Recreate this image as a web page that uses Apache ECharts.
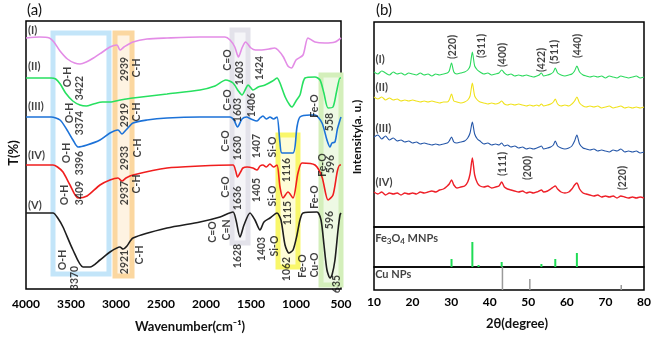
<!DOCTYPE html>
<html>
<head>
<meta charset="utf-8">
<script src="https://cdn.jsdelivr.net/npm/echarts@6/dist/echarts.min.js"></script>
<style>
html,body{margin:0;padding:0;background:#fff;}
#box{width:661px;height:339px;}
</style>
</head>
<body>
<div id="box"></div>
<script>
// (a) FTIR spectra, [wavenumber, T] (curves stacked, arbitrary units)
var ftirI = [[4000,251],[3850,252],[3740,251],[3690,247],[3622,238],[3540,230],[3460,226],[3400,225],[3330,227],[3250,231],[3150,237],[3067,242],[2989,244],[2956,239],[2911,242],[2811,247],[2656,250],[2433,251],[2067,252],[1789,252],[1733,249],[1680,242],[1640,232],[1600,241],[1560,247],[1500,241],[1450,239],[1380,239],[1300,240],[1240,241],[1200,239],[1140,232],[1090,223],[1050,221],[1000,229],[922,234],[867,251],[789,247],[678,246],[567,247],[500,251]];
var ftirII = [[4000,211],[3720,211],[3670,210],[3620,205],[3560,196],[3480,188],[3400,184],[3330,183],[3250,185],[3150,187],[3067,187],[2950,189],[2811,191],[2433,195],[2067,199],[1900,203],[1780,209],[1700,206],[1640,198],[1600,194],[1560,200],[1533,204],[1500,201],[1478,199],[1420,202],[1344,204],[1260,208],[1211,211],[1178,206],[1120,192],[1070,184],[1044,182],[1000,188],[956,194],[900,211],[789,212],[733,209],[690,196],[644,181],[589,182],[550,197],[511,211],[500,211]];
var ftirIII = [[4000,172],[3720,172],[3622,169],[3544,159],[3478,149],[3422,142],[3322,144],[3178,149],[3067,156],[2978,159],[2933,155],[2889,159],[2811,166],[2656,169],[2433,171],[2067,172],[1733,172],[1690,169],[1650,162],[1600,170],[1550,172],[1500,170],[1433,168],[1400,171],[1367,173],[1330,170],[1289,172],[1250,170],[1211,172],[1178,146],[1156,136],[1033,136],[989,162],[956,172],[844,174],[789,174],[711,166],[656,149],[622,142],[600,146],[567,147],[540,160],[511,169],[500,172]];
var ftirIV = [[4000,124],[3700,124],[3650,122],[3589,117],[3511,104],[3422,91],[3322,93],[3178,104],[3067,109],[2978,111],[2933,108],[2889,111],[2811,114],[2433,121],[2067,123],[1700,124],[1670,118],[1650,112],[1610,118],[1590,121],[1544,122],[1480,121],[1433,119],[1400,123],[1367,124],[1330,122],[1290,125],[1250,122],[1211,124],[1178,102],[1144,91],[1089,97],[1033,91],[978,116],[933,126],[789,124],[711,112],[644,89],[589,94],[540,118],[511,124],[500,124]];
var ftirV = [[4000,76],[3700,76],[3640,70],[3589,62],[3478,39],[3367,22],[3289,22],[3178,29],[3067,37],[2956,42],[2922,40],[2878,43],[2811,51],[2433,61],[2067,67],[1844,72],[1700,77],[1667,69],[1622,52],[1578,64],[1511,76],[1456,69],[1400,59],[1356,67],[1289,71],[1211,76],[1167,69],[1122,44],[1078,36],[1033,39],[989,54],[956,69],[922,76],[767,77],[722,69],[689,44],[656,19],[622,11],[600,14],[567,29],[533,59],[511,74],[500,76]];

var ftirNames = [['(I)',3978,259],['(II)',3978,223],['(III)',3978,183],['(IV)',3978,134],['(V)',3978,84]];
var ftirPeaks = [
  ['O-H',3533,212],['3422',3400,201],['2939',2900,220],['C-H',2767,221],['C=O',1756,229],['1603',1622,216],['1424',1400,221],
  ['O-H',3511,176],['3374',3400,166],['2919',2900,174],['C-H',2767,177],['C=O',1756,189],['1603',1644,179],['1406',1489,184],['Fe-O',789,183],['558',622,167],
  ['O-H',3544,136],['3396',3400,126],['2933',2900,131],['C-H',2756,141],['C=O',1778,148],['1630',1644,141],['1407',1433,143],['Si-O',1256,142],['1116',1100,119],['Fe-O',700,124],['596',611,125],
  ['O-H',3567,94],['3409',3400,96],['2937',2900,96],['C-H',2767,105],['C=O',1778,102],['1636',1644,91],['1405',1433,99],['Si-O',1256,93],['1115',1089,76],['Fe-O',789,92],['596',622,69],
  ['O-H',3589,29],['3370',3456,11],['2921',2900,27],['C-H',2733,34],['C=O',1922,57],['C=N',1767,59],['1628',1644,33],['1403',1378,40],['Si-O',1233,43],['1062',1100,20],['Fe-O',922,23],['Cu-O',789,24],['635',544,5]
];
// highlight bands: [wnFrom, wnTo, Ttop, Tbottom]
var bandOH = [3700,3078,256,15];
var bandCH = [3011,2822,256,13];
var bandCO = [1711,1533,259,46];
var bandSiO = [1200,978,154,22];
var bandFeO = [722,500,214,4];

// (b) XRD patterns
var twoTheta = [10,11,12,13,14,15,16,17,18,19,20,21,22,23,24,25,26,27,28,29,29.5,30.1,30.7,31.5,32.5,33.5,34.3,34.9,35.5,36.1,36.8,37.5,38.5,39.5,40.5,41.5,42.4,43.1,43.8,44.6,45.5,46.5,47.5,48.5,49.5,50.4,51.3,52.2,52.8,53.4,54,55,55.8,56.5,57,57.6,58.5,59.5,60.5,61.3,62,62.6,63.3,64.2,65,66,67,68,69,70,71,72,73,74,75,76,77,78,79,80];
var xrdI = [155,153,156,154,152,155,153,154,152,154,153,152,154,152,153,151,153,152,153,154,156,164,155,153,154,155,157,161,175,161,157,155,153,154,152,153,154,157,154,152,153,151,152,151,152,151,150,151,152,154,151,152,153,155,159,154,152,151,152,153,156,161,155,152,151,150,151,150,151,149,151,150,149,151,150,149,150,151,149,150];
var xrdII = [130,128,130,127,129,127,128,126,127,126,127,126,125,126,125,126,125,124,125,125,127,133,126,125,124,125,127,131,144,131,127,125,124,123,124,123,124,126,123,122,123,122,123,122,121,122,121,122,121,123,121,122,123,125,128,123,121,122,121,123,126,130,124,121,120,121,120,121,119,120,121,119,120,121,119,120,119,120,119,120];
var xrdIII = [90,92,88,91,87,89,86,87,85,86,84,85,83,84,83,82,83,82,83,84,86,90,85,84,85,86,89,94,105,93,88,86,83,84,82,83,82,84,81,82,80,81,79,80,78,79,78,79,80,81,78,79,80,82,86,81,79,78,79,81,86,92,83,79,78,77,78,76,77,76,75,77,76,78,75,76,75,76,74,75];
var xrdIV = [35,33,35,32,34,33,34,32,34,33,34,33,35,34,35,36,35,37,38,41,43,47,42,39,40,41,45,53,69,52,44,41,40,41,39,40,41,45,40,38,37,36,35,36,34,35,34,35,36,37,35,36,38,40,41,38,35,34,35,38,42,44,38,34,33,32,31,32,30,31,30,31,29,31,30,29,30,29,30,29];
var xrdNames = [['(I)',10.4,168],['(II)',10.4,140],['(III)',10.4,99],['(IV)',10.4,45]];
var hklLabels = [['(220)',30.5,180],['(311)',38.0,181],['(400)',43.4,172],['(422)',53.5,167],['(511)',56.9,175],['(440)',62.8,181],
  ['(111)',43.4,63],['(200)',49.9,59],['(220)',74.5,49]];
var fe3o4Sticks = [[30.1,8],[35.5,25],[37.1,2],[43.1,5],[53.4,3],[57.0,8],[62.6,14]];
var cuSticks = [[43.3,23],[50.4,11],[74.1,5]];

var FONT = 'Lato';
var chart = echarts.init(document.getElementById('box'));

function pair(vals) { return twoTheta.map(function (t, i) { return [t, vals[i]]; }); }
function band(b, line, fill) {
  return [{xAxis: b[0], yAxis: b[2], itemStyle: {color: fill, borderColor: line, borderWidth: 5}}, {xAxis: b[1], yAxis: b[3]}];
}
function curve(name, data, color, xi, w) {
  return {name: name, type: 'line', data: data, xAxisIndex: xi, yAxisIndex: xi, symbol: 'none', smooth: 0.25,
    lineStyle: {color: color, width: w}, z: 3, silent: true};
}
function textSeries(data, xi, opts) {
  return {type: 'scatter', data: data.map(function (d) { return [d[1], d[2], d[0]]; }), xAxisIndex: xi, yAxisIndex: xi,
    symbolSize: 1, itemStyle: {color: 'rgba(0,0,0,0)'}, z: 5, silent: true,
    label: Object.assign({show: true, position: 'inside', color: '#111', fontFamily: FONT, fontWeight: 'bold',
      formatter: function (p) { return p.value[2]; }}, opts)};
}
function sticks(data, xi, color, w) {
  return {type: 'custom', xAxisIndex: xi, yAxisIndex: xi, data: data, silent: true,
    renderItem: function (params, api) {
      var a = api.coord([api.value(0), 0]), b = api.coord([api.value(0), api.value(1)]);
      return {type: 'line', shape: {x1: a[0], y1: a[1], x2: b[0], y2: b[1]}, style: {stroke: color, lineWidth: w}};
    }};
}
function plain(v) { return String(v); }

var hidden = {show: false};
var option = {
  animation: false,
  grid: [
    {left: 26, top: 21, width: 315, height: 268, show: true, borderColor: '#000', borderWidth: 1.5},
    {left: 374, top: 22, width: 270, height: 205, show: true, borderColor: '#000', borderWidth: 1.5},
    {left: 374, top: 227, width: 270, height: 40, show: true, borderColor: '#000', borderWidth: 1.5},
    {left: 374, top: 267, width: 270, height: 23, show: true, borderColor: '#000', borderWidth: 1.5}
  ],
  xAxis: [
    {type: 'value', gridIndex: 0, min: 500, max: 4000, interval: 500, inverse: true,
      axisLine: hidden, axisTick: hidden, splitLine: hidden,
      axisLabel: {fontFamily: FONT, fontWeight: 'bold', fontSize: 12, color: '#000', margin: 9, formatter: plain}},
    {type: 'value', gridIndex: 1, min: 10, max: 80, show: false},
    {type: 'value', gridIndex: 2, min: 10, max: 80, show: false},
    {type: 'value', gridIndex: 3, min: 10, max: 80, interval: 10,
      axisLine: hidden, axisTick: hidden, splitLine: hidden,
      axisLabel: {fontFamily: FONT, fontWeight: 'bold', fontSize: 12, color: '#000', margin: 6, formatter: plain}}
  ],
  yAxis: [
    {type: 'value', gridIndex: 0, min: 0, max: 268, show: false},
    {type: 'value', gridIndex: 1, min: 0, max: 205, show: false},
    {type: 'value', gridIndex: 2, min: 0, max: 40, show: false},
    {type: 'value', gridIndex: 3, min: 0, max: 23, show: false}
  ],
  graphic: [
    {type: 'text', left: 27, top: 3, style: {text: '(a)', font: '15px ' + FONT, fill: '#111'}},
    {type: 'text', left: 376, top: 3, style: {text: '(b)', font: '15px ' + FONT, fill: '#111'}},
    {type: 'text', x: 14, y: 153, rotation: Math.PI / 2,
      style: {text: 'T(%)', font: 'bold 13px ' + FONT, fill: '#111', textAlign: 'center', textVerticalAlign: 'middle'}},
    {type: 'text', x: 357, y: 137, rotation: Math.PI / 2,
      style: {text: 'Intensity(a. u.)', font: 'bold 12px ' + FONT, fill: '#111', textAlign: 'center', textVerticalAlign: 'middle'}},
    {type: 'text', x: 190, y: 327,
      style: {text: 'Wavenumber(cm\u207B\u00B9)', font: 'bold 13px ' + FONT, fill: '#111', textAlign: 'center', textVerticalAlign: 'middle'}},
    {type: 'text', x: 517, y: 324,
      style: {text: '2\u03B8(degree)', font: 'bold 13px ' + FONT, fill: '#111', textAlign: 'center', textVerticalAlign: 'middle'}}
  ],
  series: [
    {type: 'line', data: [], xAxisIndex: 0, yAxisIndex: 0, z: 1, silent: true,
      markArea: {silent: true, data: [
        band(bandOH, '#c3e5f9', 'rgba(255,255,255,0)'),
        band(bandCH, '#fbd7a0', 'rgba(251,215,160,0.3)'),
        band(bandCO, '#e3e2ea', 'rgba(227,226,234,0.35)'),
        band(bandSiO, '#f9f76a', 'rgba(252,250,140,0.35)'),
        band(bandFeO, '#d4efbb', 'rgba(212,239,187,0.4)')
      ]}},
    curve('I', ftirI, '#e38ce6', 0, 1.6),
    curve('II', ftirII, '#27e060', 0, 1.6),
    curve('III', ftirIII, '#1c72d8', 0, 1.6),
    curve('IV', ftirIV, '#f01e1e', 0, 1.6),
    curve('V', ftirV, '#1e1e1e', 0, 1.6),
    textSeries(ftirNames, 0, {align: 'left', fontSize: 11}),
    textSeries(ftirPeaks, 0, {rotate: 90, fontSize: 10.5}),
    curve('xI', pair(xrdI), '#2bd95c', 1, 1.1),
    curve('xII', pair(xrdII), '#f0e21a', 1, 1.1),
    curve('xIII', pair(xrdIII), '#2456a8', 1, 1.1),
    curve('xIV', pair(xrdIV), '#ee1f28', 1, 1.4),
    textSeries(xrdNames, 1, {align: 'left', fontSize: 11}),
    textSeries(hklLabels, 1, {rotate: 90, fontSize: 10.5}),
    sticks(fe3o4Sticks, 2, '#1fdc55', 2),
    sticks(cuSticks, 3, '#9a9a9a', 1.5),
    textSeries([['{n|Fe}{s|3}{n|O}{s|4}{n| MNPs}', 10.3, 29]], 2, {align: 'left', fontSize: 11,
      rich: {n: {fontSize: 11, fontWeight: 'bold', fontFamily: FONT, color: '#111', lineHeight: 14},
             s: {fontSize: 8, fontWeight: 'bold', fontFamily: FONT, color: '#111', lineHeight: 14, verticalAlign: 'bottom'}}}),
    textSeries([['Cu NPs', 10.3, 16]], 3, {align: 'left', fontSize: 11})
  ]
};
chart.setOption(option);
</script>
</body>
</html>
